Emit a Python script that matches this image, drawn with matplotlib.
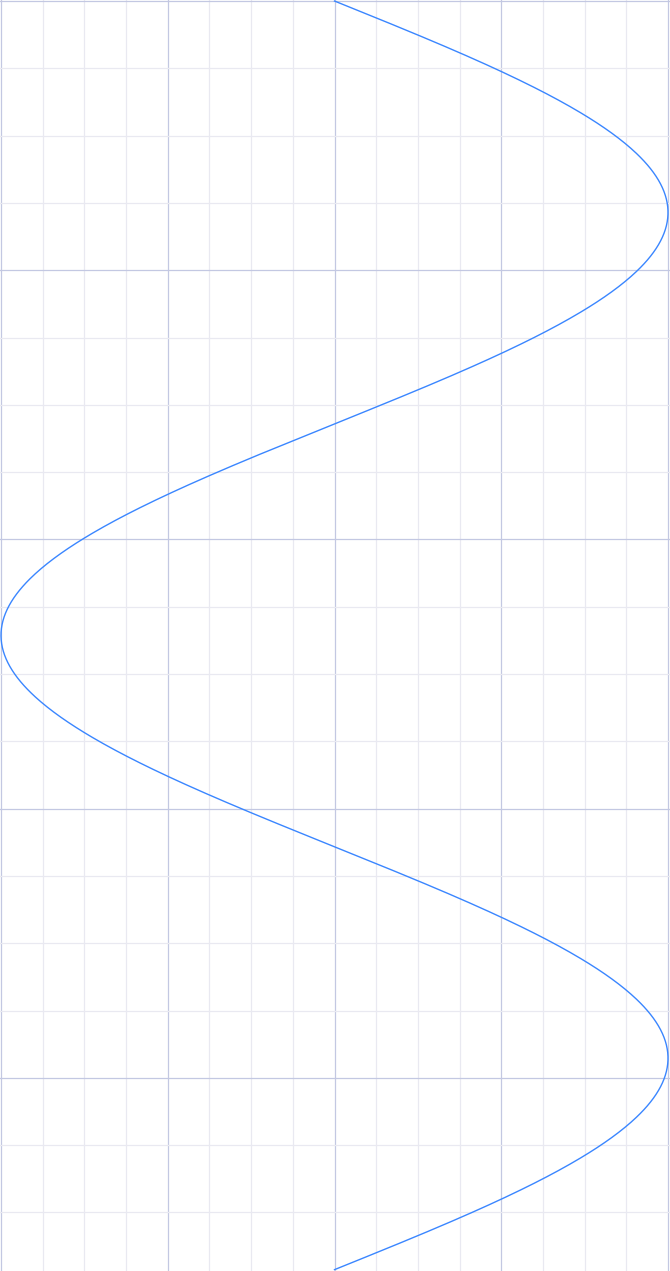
import numpy as np
import matplotlib
matplotlib.use('Agg')
import matplotlib.pyplot as plt
from matplotlib.ticker import MultipleLocator

# Curve: x = sin(t), t runs top to bottom from 0 to 3*pi
t_start = 0.0
t_end = 3 * np.pi
n_points = 1000

t = np.linspace(t_start, t_end, n_points)
x = np.sin(t)

fig = plt.figure(figsize=(6.70, 12.71), dpi=100)
ax = fig.add_axes([0, 0, 1, 1])

# Grid lines
ax.xaxis.set_major_locator(MultipleLocator(0.5))
ax.xaxis.set_minor_locator(MultipleLocator(0.125))
ax.yaxis.set_major_locator(MultipleLocator(2))
ax.yaxis.set_minor_locator(MultipleLocator(0.5))
ax.grid(which='major', color='#c3c8e2', linewidth=0.9)
ax.grid(which='minor', color='#e9e9f1', linewidth=0.9)
ax.set_axisbelow(True)

ax.plot(x, t, color='#3a86ff', linewidth=1.0)

ax.set_xlim(-1 - 1 / 333.5, 1 + 2 / 333.5)
ax.set_ylim(t_end + 0.01, -0.0075)

for s in ax.spines.values():
    s.set_visible(False)
ax.tick_params(which='both', length=0, labelleft=False, labelbottom=False)

plt.savefig('out.png', dpi=100)
plt.close()
